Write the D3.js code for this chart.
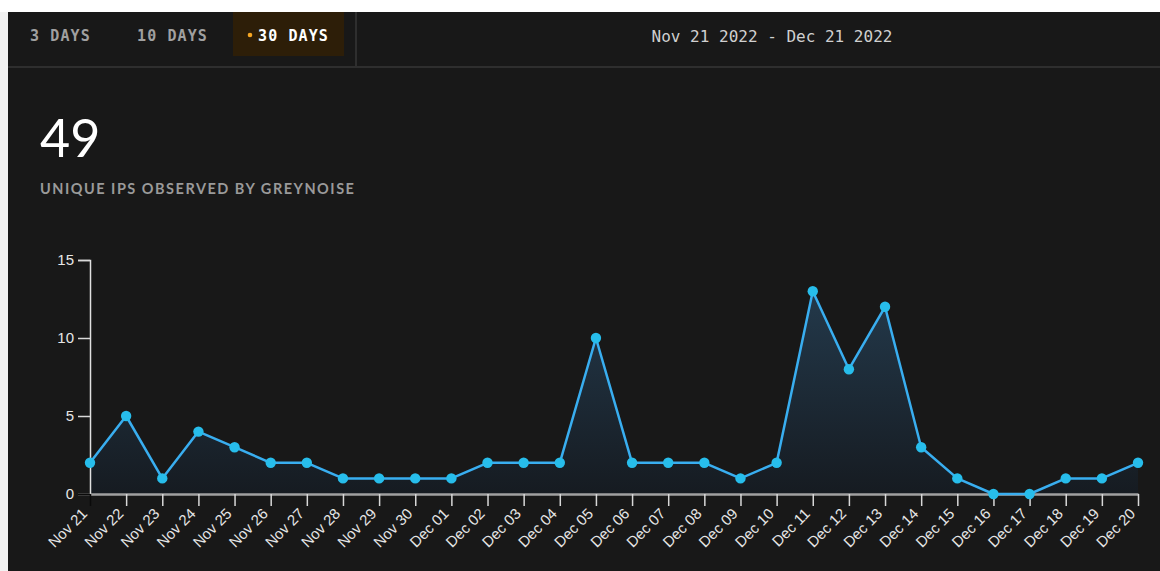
<!DOCTYPE html>
<html><head><meta charset="utf-8">
<script src="https://cdn.jsdelivr.net/npm/d3@7"></script>
<style>
html,body{margin:0;padding:0;background:#fff;width:1160px;height:571px;overflow:hidden;}
svg{position:absolute;left:0;top:0;}
</style></head>
<body>
<svg id="c" width="1160" height="571"></svg>
<script>
const tabs = ["3 DAYS", "10 DAYS", "30 DAYS"];
const activeTab = "30 DAYS";
const dateRange = "Nov 21 2022 - Dec 21 2022";
const totalValue = "49";
const totalLabel = "UNIQUE IPS OBSERVED BY GREYNOISE";
const categories = ["Nov 21","Nov 22","Nov 23","Nov 24","Nov 25","Nov 26","Nov 27","Nov 28","Nov 29","Nov 30",
  "Dec 01","Dec 02","Dec 03","Dec 04","Dec 05","Dec 06","Dec 07","Dec 08","Dec 09","Dec 10",
  "Dec 11","Dec 12","Dec 13","Dec 14","Dec 15","Dec 16","Dec 17","Dec 18","Dec 19","Dec 20"];
const values = [2,5,1,4,3,2,2,1,1,1, 1,2,2,2,10,2,2,2,1,2, 13,8,12,3,1,0,0,1,1,2];
const yTicks = [0,5,10,15];

const svg = d3.select("#c");
// panel
svg.append("rect").attr("x",8).attr("y",12).attr("width",1152).attr("height",559).attr("fill","#181818");
svg.append("rect").attr("x",0).attr("y",12).attr("width",8).attr("height",559).attr("fill","#f2f2f2");
// tab bar
const tabX = [30, 137, 258];
svg.append("rect").attr("x",233).attr("y",12).attr("width",111).attr("height",44).attr("fill","#2d1e08");
tabs.forEach((t,i)=>{
  svg.append("text").attr("x",tabX[i]).attr("y",41)
    .attr("font-family","DejaVu Sans Mono, monospace").attr("font-weight","bold")
    .attr("font-size",15).attr("letter-spacing","1.1px")
    .attr("fill", t===activeTab ? "#ffffff" : "#a0a0a0").text(t);
});
svg.append("circle").attr("cx",250).attr("cy",35).attr("r",2.3).attr("fill","#f5a623");
svg.append("rect").attr("x",355).attr("y",12).attr("width",2).attr("height",55).attr("fill","#2e2e2e");
svg.append("rect").attr("x",8).attr("y",66).attr("width",1152).attr("height",2).attr("fill","#2e2e2e");
svg.append("text").attr("x",772).attr("y",42).attr("text-anchor","middle")
  .attr("font-family","DejaVu Sans Mono, monospace").attr("font-size",16)
  .attr("fill","#d0d0d0").text(dateRange);

svg.append("text").attr("x",40).attr("y",157).attr("font-family","Lato, sans-serif").attr("font-weight",400)
  .attr("font-size",52).attr("fill","#ffffff").text(totalValue);
svg.append("text").attr("x",40).attr("y",193.5).attr("font-family","Lato, sans-serif").attr("font-weight","bold")
  .attr("font-size",14.5).attr("letter-spacing","1.5px").attr("fill","#9a9a9a").text(totalLabel);

// chart
const x = d3.scalePoint().domain(categories).range([90,1138]);
const y = d3.scaleLinear().domain([0,15]).range([494,260]);

const defs = svg.append("defs");
const g = defs.append("linearGradient").attr("id","ag")
  .attr("gradientUnits","userSpaceOnUse").attr("x1",0).attr("y1",y(13)).attr("x2",0).attr("y2",y(0));
g.append("stop").attr("offset","0%").attr("stop-color","#23394b");
g.append("stop").attr("offset","100%").attr("stop-color","#161b21");

const data = categories.map((c,i)=>({c, v: values[i]}));
svg.append("path").datum(data)
  .attr("d", d3.area().x(d=>x(d.c)).y0(y(0)).y1(d=>y(d.v)))
  .attr("fill","url(#ag)");

// axes
const yAxis = svg.append("g").attr("transform","translate(90,0)")
  .call(d3.axisLeft(y).tickValues(yTicks).tickSize(12).tickPadding(4));
yAxis.select(".domain").attr("stroke","#e0e0e0").attr("stroke-width",1.5);
yAxis.selectAll(".tick line").attr("stroke",d=>d===0?"#0a0a0a":"#d8d8d8").attr("stroke-width",1.5);
yAxis.selectAll("text").attr("fill","#e6e6e6").attr("font-size",15)
  .attr("font-family","Liberation Sans, Arial, sans-serif");

const xAxis = svg.append("g").attr("transform","translate(0,494)")
  .call(d3.axisBottom(x).tickSize(12).tickSizeOuter(0));
xAxis.select(".domain").attr("stroke","#a0a0a0").attr("stroke-width",2.5);
xAxis.selectAll(".tick line").attr("stroke",(d,i)=>i===0?"#0a0a0a":"#d8d8d8").attr("stroke-width",1.5);
xAxis.selectAll("text").attr("fill","#e6e6e6").attr("font-size",15)
  .attr("font-family","Liberation Sans, Arial, sans-serif")
  .attr("x",0).attr("y",0).attr("dx",0).attr("dy","0.35em")
  .attr("text-anchor","end")
  .attr("transform","translate(-6,17) rotate(-45)");

svg.append("path").datum(data)
  .attr("d", d3.line().x(d=>x(d.c)).y(d=>y(d.v)))
  .attr("fill","none").attr("stroke","#39aef0").attr("stroke-width",2.5).attr("stroke-linejoin","round");

svg.selectAll("circle.pt").data(data).join("circle").attr("class","pt")
  .attr("cx",d=>x(d.c)).attr("cy",d=>y(d.v)).attr("r",5.2).attr("fill","#27bdeb");
</script>
</body></html>
